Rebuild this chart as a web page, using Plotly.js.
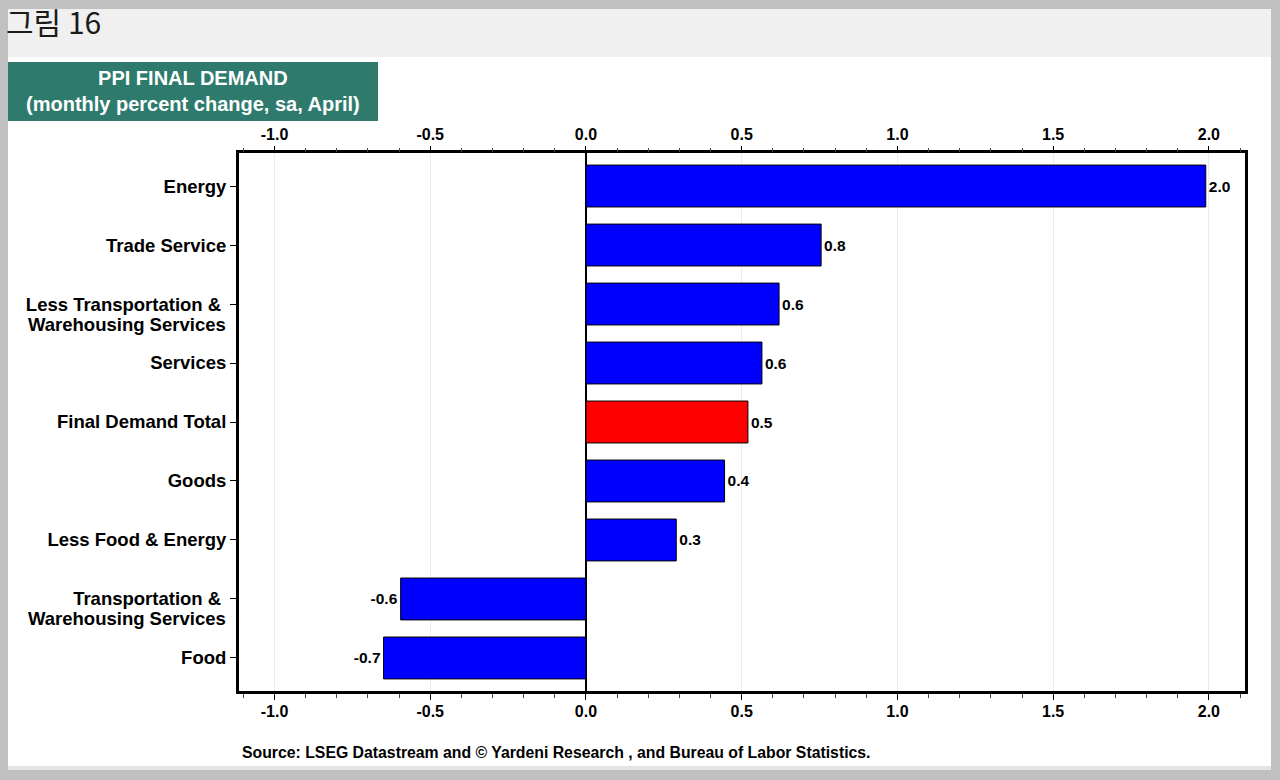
<!DOCTYPE html>
<html>
<head>
<meta charset="utf-8">
<script src="https://cdn.plot.ly/plotly-3.0.1.min.js"></script>
<style>
html,body{margin:0;padding:0;background:#c0c0c0;}
#chart{width:1280px;height:780px;}
</style>
</head>
<body>
<div id="chart"></div>
<script>
// ---- data ----
const categories = [
  "Energy",
  "Trade Service",
  "Less Transportation & <br>Warehousing Services",
  "Services",
  "Final Demand Total",
  "Goods",
  "Less Food & Energy",
  "Transportation & <br>Warehousing Services",
  "Food"
];
const values = [1.99, 0.755, 0.62, 0.565, 0.52, 0.445, 0.29, -0.595, -0.65];
const valueLabels = ["2.0", "0.8", "0.6", "0.6", "0.5", "0.4", "0.3", "-0.6", "-0.7"];
const highlight = "Final Demand Total";
const tickVals = [-1.0, -0.5, 0.0, 0.5, 1.0, 1.5, 2.0];
const tickText = ["-1.0", "-0.5", "0.0", "0.5", "1.0", "1.5", "2.0"];
const figTitle = "그림 16";
const boxTitle = "PPI FINAL DEMAND<br>(monthly percent change, sa, April)";
const sourceText = "Source: LSEG Datastream and © Yardeni Research , and Bureau of Labor Statistics.";

// ---- geometry helpers (pixel -> paper) ----
const W = 1280, H = 780;
const M = {l: 239, r: 35, t: 153, b: 89};
const PW = W - M.l - M.r, PH = H - M.t - M.b;
const px = x => (x - M.l) / PW;
const py = y => 1 - (y - M.t) / PH;

const FONT = "Arial, 'Liberation Sans', sans-serif";
const LABEL_SIZE = 18.5;
const colors = categories.map(c => c === highlight ? "#ff0000" : "#0000ff");

// first line of each category label goes on the tick, further lines hang below it
const firstLines = categories.map(c => c.split("<br>")[0]);
const extraLineAnnotations = [];
categories.forEach(c => {
  const lines = c.split("<br>");
  lines.slice(1).forEach((ln, i) => {
    extraLineAnnotations.push({
      xref: "paper", yref: "y", x: px(226.5), y: c,
      xanchor: "right", yanchor: "middle", yshift: -20 * (i + 1),
      text: ln, showarrow: false, borderpad: 0,
      font: {family: FONT, size: LABEL_SIZE, color: "#000000", weight: "bold"}
    });
  });
});

const traces = [
  {
    type: "bar",
    orientation: "h",
    x: values,
    y: categories,
    marker: {color: colors, line: {color: "#000000", width: 1}},
    text: valueLabels,
    textposition: "outside",
    cliponaxis: false,
    textfont: {family: FONT, size: 15.5, color: "#000000", weight: "bold"},
    hoverinfo: "skip"
  },
  {
    type: "scatter",
    mode: "markers",
    x: values,
    y: categories,
    xaxis: "x2",
    marker: {opacity: 0},
    hoverinfo: "skip",
    showlegend: false
  }
];

const xRange = [-1.114, 2.116];
const axisFont = {family: FONT, size: 16, color: "#000000", weight: "bold"};

const layout = {
  width: W, height: H,
  margin: M,
  paper_bgcolor: "#c0c0c0",
  plot_bgcolor: "#ffffff",
  showlegend: false,
  bargap: 0.29,
  font: {family: FONT},
  xaxis: {
    range: xRange,
    tickvals: tickVals,
    ticktext: tickText,
    tickfont: axisFont,
    ticks: "outside", ticklen: 6, tickwidth: 1, tickcolor: "#000",
    minor: {dtick: 0.1, tick0: 0, ticks: "outside", ticklen: 4, tickwidth: 1, tickcolor: "#444", showgrid: false},
    showline: true, linewidth: 3, linecolor: "#000", mirror: true,
    showgrid: true, gridcolor: "#ececec", gridwidth: 1,
    zeroline: true, zerolinecolor: "#000", zerolinewidth: 2,
    ticklabelstandoff: -2,
    fixedrange: true
  },
  xaxis2: {
    range: xRange,
    overlaying: "x",
    side: "top",
    tickvals: tickVals,
    ticktext: tickText,
    tickfont: axisFont,
    ticks: "outside", ticklen: 6, tickwidth: 1, tickcolor: "#000",
    minor: {dtick: 0.1, tick0: 0, ticks: "outside", ticklen: 4, tickwidth: 1, tickcolor: "#444", showgrid: false},
    showline: false, showgrid: false, zeroline: false,
    fixedrange: true
  },
  yaxis: {
    type: "category",
    range: [8.56, -0.56],
    tickmode: "array",
    tickvals: categories,
    ticktext: firstLines,
    tickfont: {family: FONT, size: LABEL_SIZE, color: "#000000", weight: "bold"},
    ticks: "outside", ticklen: 6, tickwidth: 1, tickcolor: "#000",
    ticklabelstandoff: 0,
    showline: true, linewidth: 3, linecolor: "#000", mirror: true,
    showgrid: false, zeroline: false,
    fixedrange: true
  },
  shapes: [
    {type: "rect", xref: "paper", yref: "paper", layer: "below",
     x0: px(8), x1: px(1271), y0: py(9), y1: py(57), fillcolor: "#f0f0f0", line: {width: 0}},
    {type: "rect", xref: "paper", yref: "paper", layer: "below",
     x0: px(8), x1: px(1271), y0: py(57), y1: py(766), fillcolor: "#ffffff", line: {width: 0}},
    {type: "rect", xref: "paper", yref: "paper", layer: "below",
     x0: px(8), x1: px(1271), y0: py(766), y1: py(770), fillcolor: "#e4e4e4", line: {width: 0}},
    {type: "rect", xref: "paper", yref: "paper", layer: "below",
     x0: px(8), x1: px(378), y0: py(62), y1: py(121), fillcolor: "#2e7b6e", line: {width: 0}}
  ],
  annotations: [
    {xref: "paper", yref: "paper", x: px(5), y: py(21), xanchor: "left", yanchor: "middle",
     text: figTitle, showarrow: false, borderpad: 0,
     font: {family: "'Noto Sans CJK KR', 'Noto Sans', sans-serif", size: 30, color: "#1a1a1a"}},
    {xref: "paper", yref: "paper", x: px(193), y: py(91.5), xanchor: "center", yanchor: "middle",
     text: boxTitle, showarrow: false, align: "center",
     font: {family: FONT, size: 20, color: "#ffffff", weight: "bold"}},
    {xref: "paper", yref: "paper", x: px(240), y: py(752), xanchor: "left", yanchor: "middle",
     text: sourceText, showarrow: false,
     font: {family: FONT, size: 15.8, color: "#000000", weight: "bold"}}
  ].concat(extraLineAnnotations)
};

Plotly.newPlot("chart", traces, layout, {displayModeBar: false, staticPlot: true});
</script>
</body>
</html>
